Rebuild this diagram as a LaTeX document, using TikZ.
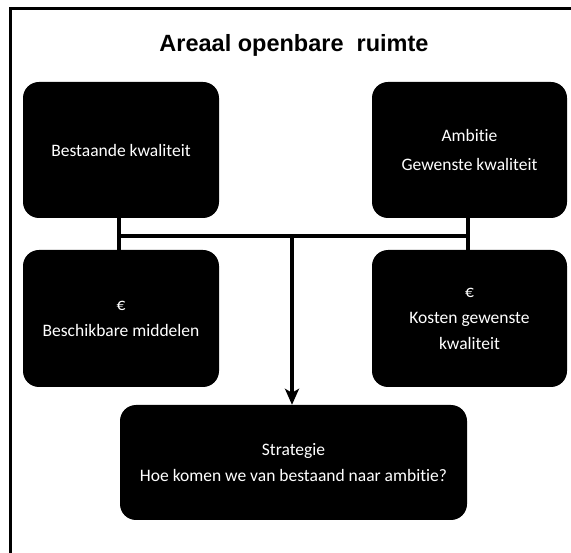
\documentclass[tikz,border=0pt]{standalone}
\usepackage{fontspec}
\setmainfont[Ligatures={NoCommon}]{Carlito}
\newfontfamily\titlefont{Liberation Sans}
\usetikzlibrary{arrows.meta}
\begin{document}
\begin{tikzpicture}[x=1pt,y=-1pt,
  box/.style={fill=black, rounded corners=16pt, text=white, align=center,
    font=\fontsize{17.5}{26}\selectfont, inner sep=0pt},
  conn/.style={line width=3.5pt},
  frame/.style={line width=3pt}]
\useasboundingbox (0,0) rectangle (571,553);
\draw[frame] (10,553) -- (10,9) -- (571,9);
\node[font=\titlefont\bfseries\fontsize{23.5}{28}\selectfont] (title) at (294,45) {Areaal openbare\ \ ruimte};
\node[box, minimum width=196pt, minimum height=136pt] (tl) at (121,150) {Bestaande kwaliteit};
\node[box, minimum width=195pt, minimum height=136pt] (tr) at (469.5,150) {Ambitie\\[3pt]Gewenste kwaliteit};
\node[box, minimum width=196pt, minimum height=137pt] (ml) at (121,318.5) {€\\Beschikbare middelen};
\node[box, minimum width=195pt, minimum height=137pt] (mr) at (469.5,318.5) {€\\Kosten gewenste\\kwaliteit};
\node[box, minimum width=347pt, minimum height=115pt] (bot) at (293.5,462.5) {Strategie\\Hoe komen we van bestaand naar ambitie?};
\coordinate (hl) at (119,236);
\coordinate (hr) at (468,236);
\coordinate (hc) at (292,236);
\draw[conn] (tl.south -| hl) -- (ml.north -| hl);
\draw[conn] (tr.south -| hr) -- (mr.north -| hr);
\draw[conn] (hl) -- (hr);
\draw[conn, -{Stealth[length=16pt,width=14pt,inset=4pt]}] (hc) -- (bot.north -| hc);
\end{tikzpicture}
\end{document}
